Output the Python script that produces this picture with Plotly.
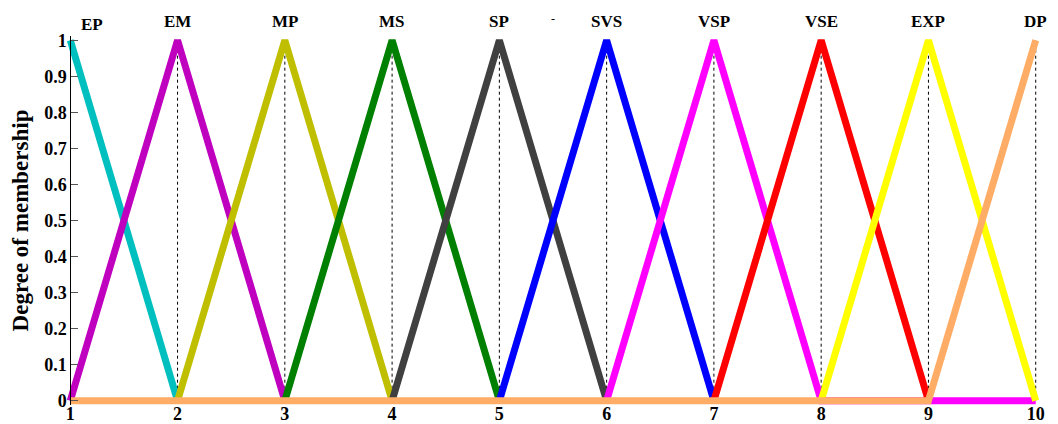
import plotly.graph_objects as go

# membership function labels, colours and break points
labels = ["EP", "EM", "MP", "MS", "SP", "SVS", "VSP", "VSE", "EXP", "DP"]
colors = ["#00BFBF", "#BF00BF", "#BFBF00", "#008000", "#404040",
          "#0000FF", "#FF00FF", "#FF0000", "#FFFF00", "#FFAD66"]
mf_x = [
    [1, 2],
    [1, 2, 3],
    [2, 3, 4],
    [3, 4, 5],
    [4, 5, 6],
    [5, 6, 7],
    [6, 7, 8, 9, 10],
    [7, 8, 9],
    [8, 9, 10],
    [1, 9, 10],
]
mf_y = [
    [1, 0],
    [0, 1, 0],
    [0, 1, 0],
    [0, 1, 0],
    [0, 1, 0],
    [0, 1, 0],
    [0, 1, 0, 0, 0],
    [0, 1, 0],
    [0, 1, 0],
    [0, 0, 1],
]
peaks = [1, 2, 3, 4, 5, 6, 7, 8, 9, 10]
x_ticks = [1, 2, 3, 4, 5, 6, 7, 8, 9, 10]
y_ticks = [0, 0.1, 0.2, 0.3, 0.4, 0.5, 0.6, 0.7, 0.8, 0.9, 1]
y_tick_text = ["0", "0.1", "0.2", "0.3", "0.4", "0.5", "0.6", "0.7", "0.8", "0.9", "1"]

FONT = "Liberation Serif"
fig = go.Figure()

# dotted guide lines under the peaks
gx, gy = [], []
for p in peaks[1:]:
    gx += [p, p, None]
    gy += [0, 1, None]
fig.add_trace(go.Scatter(x=gx, y=gy, mode="lines",
                         line=dict(color="black", width=1, dash="dot"),
                         hoverinfo="skip", showlegend=False))

for name, c, xs, ys in zip(labels, colors, mf_x, mf_y):
    fig.add_trace(go.Scatter(x=xs, y=ys, mode="lines", name=name,
                             line=dict(color=c, width=7),
                             showlegend=False))

xr = [0.96, 10.04]
yr = [-0.012, 1.012]

for name, p in zip(labels, peaks):
    xoff = 22 if p == peaks[0] else 0
    yoff = 16 if p == peaks[0] else 19
    fig.add_annotation(x=p, y=1, text=name, showarrow=False,
                       xshift=xoff, yshift=yoff, yanchor="middle",
                       font=dict(family=FONT, size=17, color="black", weight="bold"))

# small stray mark present in the original figure
fig.add_annotation(x=0.4995, y=1.0, xref="paper", yref="paper", text="-",
                   showarrow=False, yshift=26,
                   font=dict(family=FONT, size=12, color="black"))

# page body has an 8px margin, so the figure is 8px smaller than the window
fig.update_layout(
    width=1050, height=416,
    margin=dict(l=58, r=18, t=28, b=19, autoexpand=False),
    paper_bgcolor="white", plot_bgcolor="white",
    xaxis=dict(range=xr, tickvals=x_ticks, ticktext=[str(v) for v in x_ticks],
               showgrid=False, zeroline=False, showline=False, ticks="",
               anchor="free", position=(0 - yr[0]) / (yr[1] - yr[0]),
               ticklabelstandoff=0, automargin=False,
               tickfont=dict(family=FONT, size=18, color="black", weight="bold")),
    yaxis=dict(range=yr, tickvals=y_ticks, ticktext=y_tick_text,
               showgrid=False, zeroline=False, showline=True, linecolor="black",
               linewidth=1, ticks="inside", ticklen=7, tickcolor="#555555",
               anchor="free", position=(1 - xr[0]) / (xr[1] - xr[0]),
               automargin=False,
               title=dict(text="Degree of membership", standoff=10,
                          font=dict(family=FONT, size=23, color="black", weight="bold")),
               tickfont=dict(family=FONT, size=18, color="black", weight="bold")),
)

fig.write_html("out.html")
